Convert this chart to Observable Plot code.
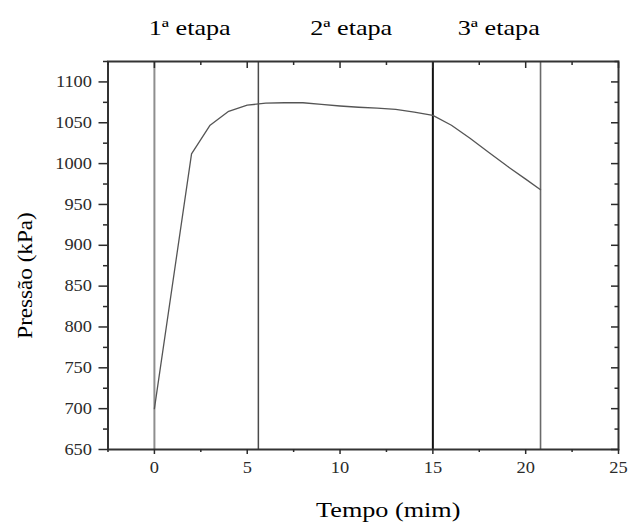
<!DOCTYPE html>
<html>
<head>
<meta charset="utf-8">
<script src="https://cdn.jsdelivr.net/npm/d3@7"></script>
<script src="https://cdn.jsdelivr.net/npm/@observablehq/plot@0.6"></script>
<style>
  html, body { margin: 0; padding: 0; background: #fff; }
</style>
</head>
<body>
<div id="chart"></div>
<script>
// Pressure inside the vessel over time, through the three process stages
const tempo   = [0, 2, 3, 4, 5, 6, 7, 8, 9, 10, 11, 12, 13, 14, 15, 16, 17, 18, 19, 20, 20.8];
const pressao = [700, 1012, 1047, 1064, 1071.5, 1074, 1074.5, 1074.5, 1072.5, 1070.5, 1069, 1068, 1066.5, 1063, 1059, 1047, 1031, 1014, 997, 981, 968];

// Stage boundaries (min)
const limites = [0, 5.6, 15, 20.8];

// Stage names and where they sit along the time axis
const etapas = ["1ª etapa", "2ª etapa", "3ª etapa"];
const etapaX = [1.9, 10.6, 18.55];

// Tick values
const xTicks = [0, 5, 10, 15, 20, 25];
const xMinor = [-2.5, 2.5, 7.5, 12.5, 17.5, 22.5];
const yTicks = [650, 700, 750, 800, 850, 900, 950, 1000, 1050, 1100];
const yMinor = [675, 725, 775, 825, 875, 925, 975, 1025, 1075, 1125];

const serif = "'Liberation Serif', 'Times New Roman', serif";
const pontos = tempo.map((t, i) => ({t, p: pressao[i]}));
const none = () => "";
const plain = (d) => String(d);

const plot = Plot.plot({
  width: 630,
  height: 525,
  marginLeft: 107.5,
  marginRight: 12,
  marginTop: 61,
  marginBottom: 76,
  style: {fontFamily: serif, background: "#fff", color: "#2b2b2b"},
  x: {domain: [-2.5, 25], label: null},
  y: {domain: [650, 1125], label: null},
  marks: [
    // stage boundaries
    Plot.ruleX([limites[0]], {stroke: "#8e8e8e", strokeWidth: 2}),
    Plot.ruleX([limites[1]], {stroke: "#4a4a4a", strokeWidth: 1.5}),
    Plot.ruleX([limites[2]], {stroke: "#111", strokeWidth: 2}),
    Plot.ruleX([limites[3]], {stroke: "#6a6a6a", strokeWidth: 1.6}),

    // pressure curve
    Plot.line(pontos, {x: "t", y: "p", stroke: "#555", strokeWidth: 1.3}),

    Plot.frame({stroke: "#333", strokeWidth: 2}),

    // bottom axis
    Plot.axisX(xTicks, {anchor: "bottom", tickSize: 5, tickPadding: 7, fontSize: 16, strokeWidth: 1.5, tickFormat: plain, label: null}),
    Plot.axisX(xMinor, {anchor: "bottom", tickSize: 3, tickFormat: none, strokeWidth: 1.5, label: null}),
    // top axis, ticks pointing inward
    Plot.axisX(xTicks, {anchor: "top", tickSize: -6, tickFormat: none, strokeWidth: 1.5, label: null}),
    Plot.axisX(xMinor, {anchor: "top", tickSize: -3, tickFormat: none, strokeWidth: 1.5, label: null}),
    // left axis
    Plot.axisY(yTicks, {anchor: "left", tickSize: 9, tickPadding: 7, fontSize: 16, strokeWidth: 1.5, tickFormat: plain, label: null}),
    Plot.axisY(yMinor, {anchor: "left", tickSize: 4.5, tickFormat: none, strokeWidth: 1.5, label: null}),
    // right axis, ticks pointing inward
    Plot.axisY(yTicks, {anchor: "right", tickSize: -8, tickFormat: none, strokeWidth: 1.5, label: null}),
    Plot.axisY(yMinor, {anchor: "right", tickSize: -4.5, tickFormat: none, strokeWidth: 1.5, label: null}),

    // stage names above the frame
    Plot.text(etapas, {x: (d, i) => etapaX[i], frameAnchor: "top", textAnchor: "middle", lineAnchor: "middle", dy: -34, fontSize: 22, fill: "#000", ariaDescription: "etapas"}),

    // axis titles
    Plot.text(["Tempo (mim)"], {frameAnchor: "bottom", textAnchor: "middle", lineAnchor: "middle", dx: 25, dy: 60, fontSize: 22, fill: "#000", ariaDescription: "eixo-x"}),
    Plot.text(["Pressão (kPa)"], {frameAnchor: "left", textAnchor: "middle", lineAnchor: "middle", rotate: -90, dx: -83, dy: 20, fontSize: 22, fill: "#000", ariaDescription: "eixo-y"})
  ]
});

document.getElementById("chart").append(plot);

// Widen the horizontal lettering a little, as in the printed figure
function widen(selector, k) {
  plot.querySelectorAll(selector).forEach((t) => {
    if (!t.textContent) return;
    const w = t.getComputedTextLength();
    t.setAttribute("textLength", (w * k).toFixed(2));
    t.setAttribute("lengthAdjust", "spacingAndGlyphs");
  });
}
widen('g[aria-label="x-axis tick label"] text', 1.15);
widen('g[aria-label="y-axis tick label"] text', 1.15);
widen('g[aria-description="etapas"] text', 1.19);
widen('g[aria-description="eixo-x"] text', 1.19);
widen('g[aria-description="eixo-y"] text', 1.05);
</script>
</body>
</html>
